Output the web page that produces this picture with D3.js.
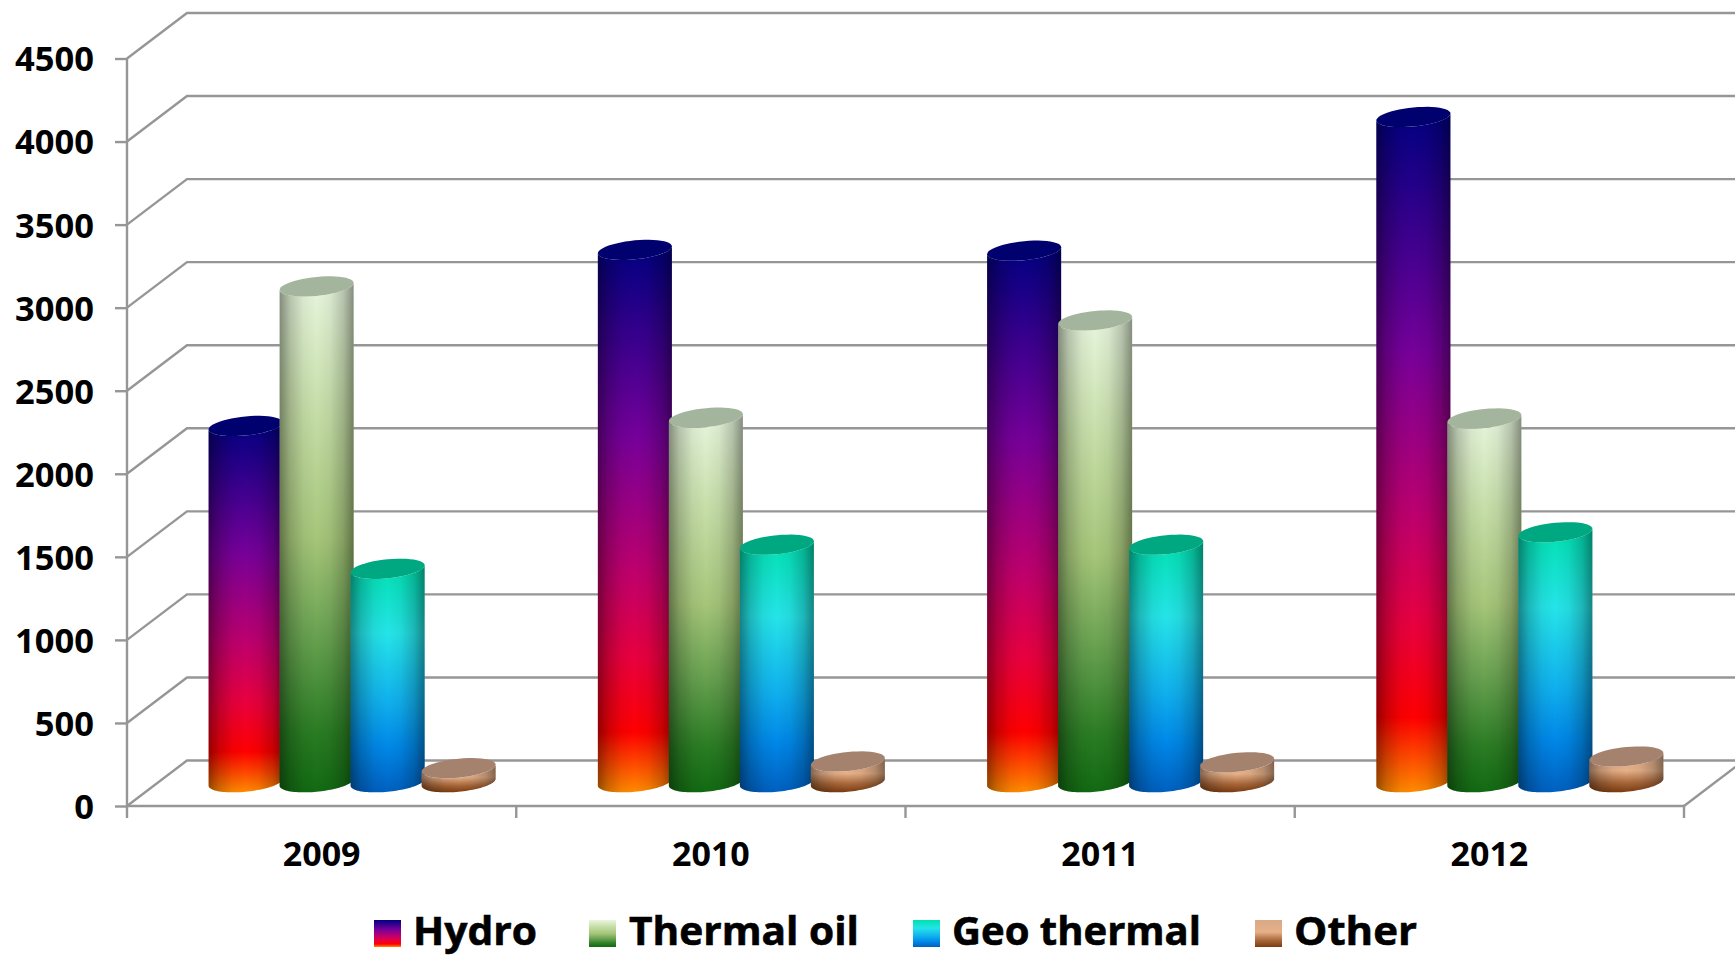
<!DOCTYPE html>
<html>
<head>
<meta charset="utf-8">
<script src="https://cdn.jsdelivr.net/npm/d3@7/dist/d3.min.js"></script>
<style>
  html, body { margin: 0; padding: 0; background: #fff; }
  svg { display: block; }
  text { font-family: "Open Sans", "DejaVu Sans", sans-serif; font-weight: 700; fill: #000; }
</style>
</head>
<body>
<svg id="chart" width="1735" height="957"></svg>
<script>
// Electricity generation by source, 2009-2012
const years = ["2009", "2010", "2011", "2012"];
const seriesNames = ["Hydro", "Thermal oil", "Geo thermal", "Other"];
const hydro = [2145, 3205, 3200, 4005];
const thermalOil = [2985, 2195, 2780, 2190];
const geoThermal = [1285, 1430, 1430, 1505];
const other = [85, 125, 120, 155];
const seriesValues = [hydro, thermalOil, geoThermal, other];
const yTicks = [0, 500, 1000, 1500, 2000, 2500, 3000, 3500, 4000, 4500];

const seriesStops = [
  [[0, "#000082"], [.35, "#76009a"], [.6, "#c0006c"], [.75, "#e80040"], [.89, "#ff0000"], [1, "#ff8c00"]],
  [[0, "#e8f6de"], [.25, "#c6dea8"], [.5, "#a6c67a"], [.7, "#66a04f"], [.88, "#2a7c23"], [1, "#126a12"]],
  [[0, "#00e0b0"], [.3, "#25e4e8"], [.6, "#10b0ee"], [.8, "#0088e8"], [1, "#0060c0"]],
  [[0, "#d8a888"], [.45, "#e6b088"], [.75, "#a8673a"], [1, "#7a3c10"]]
];
const capColors = ["#00006e", "#a3b59c", "#00a882", "#a5826e"];
const legendSlots = [
  { swatch: 374, text: 413, width: 124 },
  { swatch: 589, text: 629, width: 230 },
  { swatch: 913, text: 952, width: 249 },
  { swatch: 1255, text: 1294, width: 123 }
];

const axisColor = "#969696";
const depthX = 60, depthY = 45.5;
const svg = d3.select("#chart");
const defs = svg.append("defs");

const y = d3.scaleLinear().domain([0, 4500]).range([806, 58.5]);
const x = d3.scaleBand().domain(years).range([127, 127 + 389.25 * 4]);
const seriesBand = d3.scaleBand().domain(d3.range(4)).range([-141.5, 142.5]);
const plotRight = x.range()[1];

// Vertical colour ramps, one per series
seriesStops.forEach((stops, i) => {
  const g = defs.append("linearGradient").attr("id", "ramp" + i)
    .attr("x1", 0).attr("y1", 0).attr("x2", 0).attr("y2", 1);
  stops.forEach(s => g.append("stop").attr("offset", s[0]).attr("stop-color", s[1]));
});

// Side shading that rounds the cylinders
const shade = defs.append("linearGradient").attr("id", "shade")
  .attr("x1", 0).attr("y1", 0).attr("x2", 1).attr("y2", 0);
[[0, .42], [.14, .2], [.32, .05], [.5, 0], [.68, .05], [.86, .2], [1, .42]].forEach(s =>
  shade.append("stop").attr("offset", s[0]).attr("stop-color", "#000").attr("stop-opacity", s[1]));

// Back wall gridlines and the depth edges running to the front axis
const grid = svg.append("g").attr("fill", "none").attr("stroke", axisColor).attr("stroke-width", 2.4);
yTicks.forEach(t => {
  grid.append("path").attr("d", d3.line()([
    [x.range()[0], y(t)],
    [x.range()[0] + depthX, y(t) - depthY],
    [1740, y(t) - depthY]
  ]));
});
grid.append("line")
  .attr("x1", plotRight).attr("y1", y(0))
  .attr("x2", plotRight + depthX).attr("y2", y(0) - depthY);

// Value axis
const yAxis = svg.append("g").attr("transform", `translate(${x.range()[0]},0)`)
  .call(d3.axisLeft(y).tickValues(yTicks).tickSize(12).tickPadding(21).tickFormat(d3.format("d")));
yAxis.selectAll("line, path").attr("stroke", axisColor).attr("stroke-width", 2.4);
yAxis.select(".domain").attr("d", `M0,${y(4500)}V${y(0)}`);
yAxis.selectAll("text").style("font-size", "34.5px").style("font-family", null).attr("dy", "0.36em");

// Category axis: ticks sit on band edges, labels at band centres
const xAxis = svg.append("g").attr("transform", `translate(0,${y(0)})`)
  .call(d3.axisBottom(x).tickSize(0).tickPadding(36));
xAxis.select(".domain").attr("stroke", axisColor).attr("stroke-width", 2.4).attr("d", `M${x.range()[0]},0H${plotRight}`);
xAxis.selectAll("text").style("font-size", "34px").style("font-family", null);
xAxis.selectAll(".edge").data([...years.map(d => x(d)), plotRight]).enter().append("line")
  .attr("class", "edge").attr("x1", d => d).attr("x2", d => d).attr("y1", 0).attr("y2", 12)
  .attr("stroke", axisColor).attr("stroke-width", 2.4);

// Cylinder outline helpers: a sheared ellipse seen from above and to the side
const radiusX = 37, radiusY = 9.5, skew = 3.5;
const floorY = y(0) - depthY / 2 - 1;
const lift = v => floorY - (y(0) - y(v));
const rim = (cx, cy, from, to) => d3.range(0, 49).map(k => {
  const t = from + (to - from) * k / 48;
  return [cx + radiusX * Math.cos(t), cy + radiusY * Math.sin(t) - skew * Math.cos(t)];
});
const line = d3.line();

const bars = svg.append("g");
years.forEach((yr, yi) => {
  seriesValues.forEach((vals, si) => {
    const cx = x(yr) + x.bandwidth() / 2 + depthX / 2 + seriesBand(si) + seriesBand.bandwidth() / 2;
    const topY = lift(vals[yi]);
    // front of the base rim, then across the far side of the top rim
    const outline = line([...rim(cx, floorY, 0, Math.PI), ...rim(cx, topY, Math.PI, 0)]) + "Z";
    const bar = bars.append("g");
    bar.append("path").attr("d", outline).attr("fill", `url(#ramp${si})`);
    bar.append("path").attr("d", outline).attr("fill", "url(#shade)");
    bar.append("path").attr("d", line(rim(cx, topY, 0, 2 * Math.PI)) + "Z").attr("fill", capColors[si]);
  });
});

// Legend
const legend = svg.append("g");
seriesNames.forEach((name, i) => {
  legend.append("rect").attr("x", legendSlots[i].swatch).attr("y", 920)
    .attr("width", 27).attr("height", 27).attr("fill", `url(#ramp${i})`);
  legend.append("text").attr("x", legendSlots[i].text).attr("y", 945)
    .attr("textLength", legendSlots[i].width).attr("lengthAdjust", "spacingAndGlyphs")
    .style("font-size", "40px").style("stroke", "#000").style("stroke-width", 0.6).text(name);
});
</script>
</body>
</html>
